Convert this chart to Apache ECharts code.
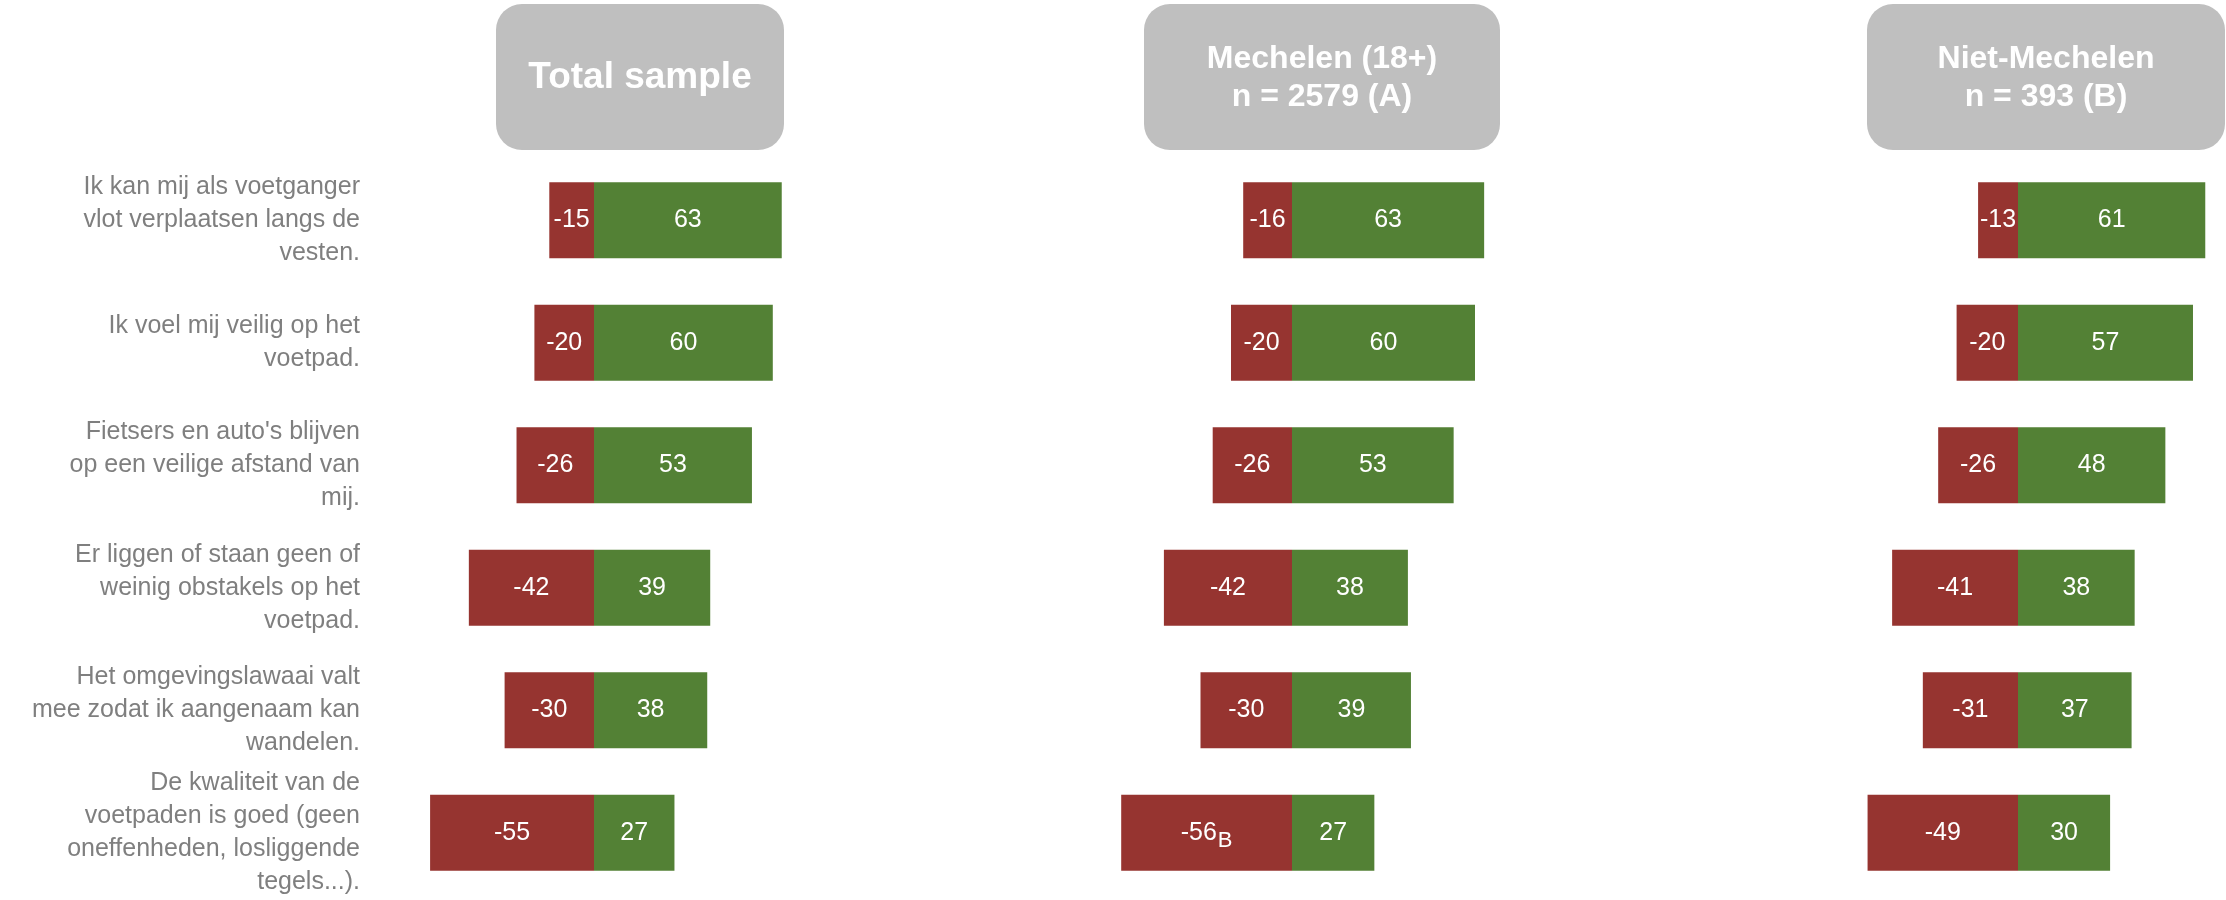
<!DOCTYPE html>
<html>
<head>
<meta charset="utf-8">
<script src="https://cdn.jsdelivr.net/npm/echarts@6/dist/echarts.min.js"></script>
<style>
  html, body { margin: 0; padding: 0; background: #ffffff; }
  #chart { width: 2226px; height: 900px; }
</style>
</head>
<body>
<div id="chart"></div>
<script>
// Statements (top to bottom)
const statements = [
  "Ik kan mij als voetganger\nvlot verplaatsen langs de\nvesten.",
  "Ik voel mij veilig op het\nvoetpad.",
  "Fietsers en auto's blijven\nop een veilige afstand van\nmij.",
  "Er liggen of staan geen of\nweinig obstakels op het\nvoetpad.",
  "Het omgevingslawaai valt\nmee zodat ik aangenaam kan\nwandelen.",
  "De kwaliteit van de\nvoetpaden is goed (geen\noneffenheden, losliggende\ntegels...)."
];

// Panel headings
const panelTitles = ["Total sample", "Mechelen (18+)\nn = 2579 (A)", "Niet-Mechelen\nn = 393 (B)"];

// Disagree (negative) and agree (positive) shares per panel
const totalNeg = [-15, -20, -26, -42, -30, -55];
const totalPos = [63, 60, 53, 39, 38, 27];
const mechelenNeg = [-16, -20, -26, -42, -30, -56];
const mechelenPos = [63, 60, 53, 38, 39, 27];
const nietMechelenNeg = [-13, -20, -26, -41, -31, -49];
const nietMechelenPos = [61, 57, 48, 38, 37, 30];

// Significance markers shown next to the negative values
const totalSig = ["", "", "", "", "", ""];
const mechelenSig = ["", "", "", "", "", "B"];
const nietMechelenSig = ["", "", "", "", "", ""];

const RED = "#963430";
const GREEN = "#538135";
const FONT = "Liberation Sans, Arial, sans-serif";

const panels = [
  { neg: totalNeg, pos: totalPos, sig: totalSig },
  { neg: mechelenNeg, pos: mechelenPos, sig: mechelenSig },
  { neg: nietMechelenNeg, pos: nietMechelenPos, sig: nietMechelenSig }
];

// Grid geometry: zero position, value range and pixels per percentage point
const gridDefs = [
  { zero: 594, min: -70, max: 70, px: 2.98 },
  { zero: 1292, min: -70, max: 70, px: 3.05 },
  { zero: 2018, min: -70, max: 65, px: 3.07 }
];
const boxDefs = [
  { x: 496, w: 288 },
  { x: 1144, w: 356 },
  { x: 1867, w: 358 }
];

const grids = gridDefs.map(g => ({
  left: g.zero + g.min * g.px,
  width: (g.max - g.min) * g.px,
  top: 159,
  height: 735
}));

const xAxes = gridDefs.map((g, i) => ({
  type: "value", gridIndex: i, min: g.min, max: g.max,
  show: false, splitLine: { show: false }
}));

const yAxes = gridDefs.map((g, i) => ({
  type: "category", gridIndex: i, data: statements, inverse: true,
  axisLine: { show: false, onZero: false },
  axisTick: { show: false },
  splitLine: { show: false },
  axisLabel: i === 0 ? {
    show: true, margin: g.zero + g.min * g.px - 360, align: "right",
    fontFamily: FONT, fontSize: 25, lineHeight: 33, color: "#7F7F7F"
  } : { show: false }
}));

const labelRich = {
  v: { fontFamily: FONT, fontSize: 25, color: "#ffffff" },
  s: { fontFamily: FONT, fontSize: 22, color: "#ffffff", padding: [16, 0, 0, 1] }
};

const series = [];
panels.forEach((p, i) => {
  series.push({
    type: "bar", name: "neg" + i, xAxisIndex: i, yAxisIndex: i, stack: "s" + i,
    barCategoryGap: "38%",
    itemStyle: { color: RED },
    label: {
      show: true, position: "inside",
      formatter: prm => "{v|" + prm.value + "}" + (p.sig[prm.dataIndex] ? "{s|" + p.sig[prm.dataIndex] + "}" : ""),
      rich: labelRich
    },
    data: p.neg
  });
  series.push({
    type: "bar", name: "pos" + i, xAxisIndex: i, yAxisIndex: i, stack: "s" + i,
    barCategoryGap: "38%",
    itemStyle: { color: GREEN },
    label: {
      show: true, position: "inside",
      fontFamily: FONT, fontSize: 25, color: "#ffffff"
    },
    data: p.pos
  });
});

// Rounded grey heading boxes above each panel
const graphics = [];
boxDefs.forEach((b, i) => {
  graphics.push({
    type: "rect", left: b.x, top: 4,
    shape: { width: b.w, height: 146, r: 26 },
    style: { fill: "#BFBFBF" }
  });
  const single = panelTitles[i].indexOf("\n") < 0;
  graphics.push({
    type: "text",
    x: b.x + b.w / 2, y: 78,
    style: {
      text: panelTitles[i],
      fill: "#ffffff",
      font: "bold " + (single ? 37 : 32) + "px " + FONT,
      lineHeight: 38,
      align: "center",
      verticalAlign: "middle"
    }
  });
});

const chart = echarts.init(document.getElementById("chart"), null, { renderer: "canvas" });
chart.setOption({
  animation: false,
  backgroundColor: "#ffffff",
  grid: grids,
  xAxis: xAxes,
  yAxis: yAxes,
  series: series,
  graphic: graphics
});
</script>
</body>
</html>
